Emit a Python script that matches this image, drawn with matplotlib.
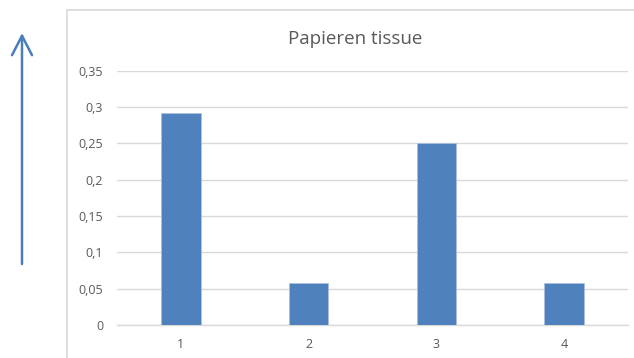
import matplotlib
matplotlib.use("Agg")
import matplotlib.pyplot as plt
from matplotlib.patches import Rectangle, FancyArrowPatch
from matplotlib.ticker import FuncFormatter

plt.rcParams['font.family'] = ['Open Sans', 'DejaVu Sans']

categories = [1, 2, 3, 4]
values = [0.292, 0.058, 0.25, 0.058]
yticks = [0, 0.05, 0.1, 0.15, 0.2, 0.25, 0.3, 0.35]
title = "Papieren tissue"

W, H = 634, 358
fig = plt.figure(figsize=(W / 100, H / 100), dpi=100)

# chart frame (left and top edges visible)
fig.add_artist(Rectangle((67 / W, -0.05), 1.0, 1 - 10 / H + 0.05,
                         transform=fig.transFigure, fill=False,
                         edgecolor='#d9d9d9', linewidth=1.2))

# vertical arrow on the left
fig.add_artist(FancyArrowPatch(
    (22 / W, 1 - 264 / H), (22 / W, 1 - 33 / H),
    transform=fig.transFigure, arrowstyle='->,head_length=7,head_width=3.6',
    color='#4a7ebb', linewidth=1.8, mutation_scale=2,
    shrinkA=0, shrinkB=0))

ax = fig.add_axes([117 / W, 1 - 325 / H, (628 - 117) / W, (325 - 70.7) / H])
ax.bar(categories, values, width=0.31, color='#4f81bd',
       edgecolor='#a9c0de', linewidth=0.6, zorder=3)
ax.set_xlim(0.5, 4.5)
ax.set_ylim(0, 0.35)
ax.set_yticks(yticks)
ax.set_xticks(categories)
ax.yaxis.set_major_formatter(FuncFormatter(lambda v, p: f"{v:g}".replace('.', ',')))
ax.grid(axis='y', color='#d9d9d9', linewidth=1.0, zorder=0)
ax.axhline(0, color='#d9d9d9', linewidth=1.0, zorder=1, clip_on=False)
for s in ax.spines.values():
    s.set_visible(False)
ax.tick_params(axis='both', length=0, labelsize=9, colors='#595959')
ax.tick_params(axis='y', pad=10)
ax.tick_params(axis='x', pad=9)

fig.text(355 / W, 1 - 39 / H, title, ha='center', va='center',
         fontsize=13.5, color='#595959')

fig.savefig("out.png", dpi=100)
